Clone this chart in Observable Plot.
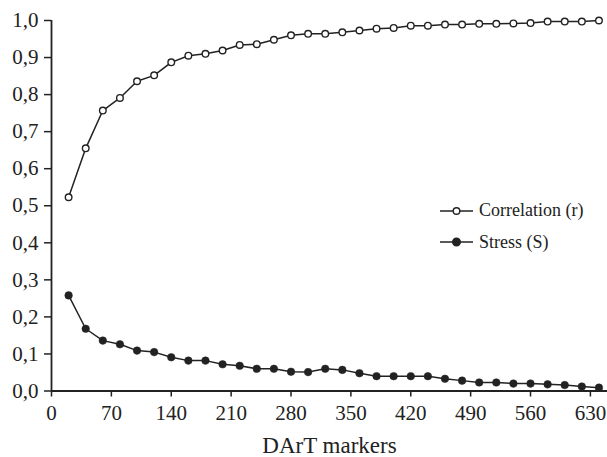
<!DOCTYPE html>
<html>
<head>
<meta charset="utf-8">
<script src="https://cdn.jsdelivr.net/npm/d3@7"></script>
<script src="https://cdn.jsdelivr.net/npm/@observablehq/plot@0.6"></script>
<style>
  html, body { margin: 0; padding: 0; background: #fff; }
  #wrap { position: relative; width: 607px; height: 457px; font-family: "Liberation Serif", "Times New Roman", serif; color: #222; }
  #legend { position: absolute; left: 440px; top: 195px; font-size: 18px; line-height: 31.5px; }
  #legend .row { display: flex; align-items: center; height: 31.5px; }
  #legend svg { margin-right: 6px; }
</style>
</head>
<body>
<div id="wrap"></div>
<script>
const markers = [20,40,60,80,100,120,140,160,180,200,220,240,260,280,300,320,340,360,380,400,420,440,460,480,500,520,540,560,580,600,620,640];
const correlation = [0.523,0.655,0.757,0.791,0.836,0.852,0.887,0.905,0.910,0.919,0.934,0.936,0.948,0.960,0.964,0.964,0.968,0.973,0.978,0.980,0.986,0.986,0.989,0.989,0.991,0.991,0.992,0.993,0.997,0.997,0.997,1.0];
const stress = [0.258,0.168,0.136,0.126,0.109,0.105,0.091,0.082,0.082,0.072,0.068,0.060,0.060,0.052,0.051,0.060,0.057,0.048,0.040,0.040,0.040,0.040,0.033,0.028,0.023,0.023,0.020,0.020,0.018,0.016,0.012,0.009];
const xTicks = [0,70,140,210,280,350,420,490,560,630];
const yTicks = [0,0.1,0.2,0.3,0.4,0.5,0.6,0.7,0.8,0.9,1.0];
const seriesNames = ["Correlation (r)", "Stress (S)"];
const xLabel = "DArT markers";

const corrData = markers.map((m, i) => ({x: m, y: correlation[i]}));
const stressData = markers.map((m, i) => ({x: m, y: stress[i]}));
const ink = "#222";
const fmt = d => d.toFixed(1).replace(".", ",");

const chart = Plot.plot({
  width: 607,
  height: 457,
  marginLeft: 51,
  marginRight: 0,
  marginTop: 20,
  marginBottom: 66.5,
  style: {fontFamily: "'Liberation Serif', 'Times New Roman', serif", fontSize: "21px", color: ink, background: "#fff"},
  x: {domain: [0, 650]},
  y: {domain: [0, 1]},
  marks: [
    Plot.axisY(yTicks, {tickSize: 7, tickPadding: 6, tickFormat: fmt, label: null, fontSize: 21, stroke: ink, strokeWidth: 1.5}),
    Plot.axisX(xTicks, {tickSize: 6, tickPadding: 8, label: null, fontSize: 21, stroke: ink, strokeWidth: 1.5}),
    Plot.ruleX([0], {stroke: ink, strokeWidth: 1.8}),
    Plot.ruleY([0], {stroke: ink, strokeWidth: 1.8}),
    Plot.line(corrData, {x: "x", y: "y", stroke: ink, strokeWidth: 1.5}),
    Plot.dot(corrData, {x: "x", y: "y", r: 3.3, fill: "#fff", stroke: ink, strokeWidth: 1.4}),
    Plot.line(stressData, {x: "x", y: "y", stroke: ink, strokeWidth: 1.5}),
    Plot.dot(stressData, {x: "x", y: "y", r: 3.8, fill: ink, stroke: ink, strokeWidth: 0.5}),
    Plot.text([xLabel], {frameAnchor: "bottom", dy: 61.5, lineAnchor: "bottom", fontSize: 23, fill: ink})
  ]
});
const wrap = document.getElementById("wrap");
wrap.appendChild(chart);

const legend = document.createElement("div");
legend.id = "legend";
seriesNames.forEach((name, i) => {
  const row = document.createElement("div");
  row.className = "row";
  const filled = i === 1;
  row.innerHTML = `<svg width="33" height="12" viewBox="0 0 33 12"><line x1="0" y1="6" x2="33" y2="6" stroke="${ink}" stroke-width="1.5"/><circle cx="16.5" cy="6" r="${filled ? 3.8 : 3.3}" fill="${filled ? ink : "#fff"}" stroke="${ink}" stroke-width="1.4"/></svg><span>${name}</span>`;
  legend.appendChild(row);
});
wrap.appendChild(legend);
</script>
</body>
</html>
